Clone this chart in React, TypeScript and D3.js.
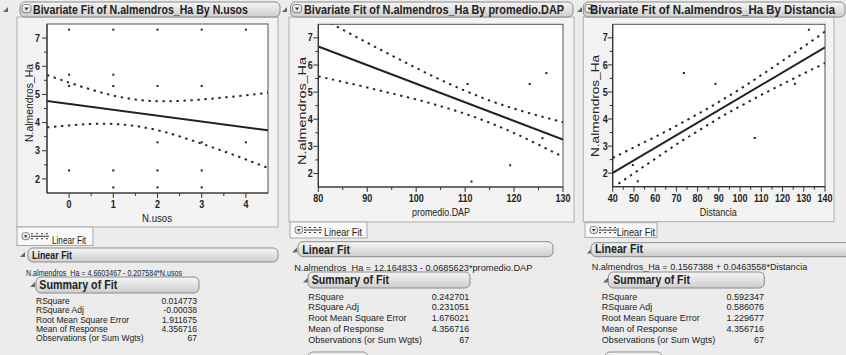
import React from "react";
import * as d3 from "d3";

const FONT = "'Liberation Sans', Arial, Helvetica, sans-serif";

// shared
const yTicks = [2, 3, 4, 5, 6, 7];
const yDomain = [1.5, 7.5];
const statLabels = [
  "RSquare",
  "RSquare Adj",
  "Root Mean Square Error",
  "Mean of Response",
  "Observations (or Sum Wgts)",
];

// Panel 1: N.usos
const usosX = [0, 0, 0, 0, 1, 1, 1, 1, 1, 2, 2, 2, 2, 2, 3, 3, 3, 3, 3, 4, 4];
const usosY = [7.3, 5.7, 5.3, 2.3, 7.3, 5.7, 5.3, 2.3, 1.7, 7.3, 5.3, 3.3, 2.3, 1.7, 7.3, 5.3, 3.3, 2.3, 1.7, 7.3, 3.3];
const usosTicks = [0, 1, 2, 3, 4];
const usosCiX = [-0.5, 0, 0.5, 1, 1.5, 2, 2.5, 3, 3.5, 4, 4.5];
const usosCiUpper = [5.69, 5.42, 5.17, 4.96, 4.82, 4.76, 4.77, 4.82, 4.89, 4.97, 5.06];
const usosCiLower = [3.83, 3.9, 3.95, 3.95, 3.88, 3.73, 3.51, 3.25, 2.98, 2.69, 2.39];
const usosFit = [4.6603467, -0.207584];
const usosStats = ["0.014773", "-0.00038", "1.911675", "4.356716", "67"];

// Panel 2: promedio.DAP
const dapX = [110.5, 111.3, 119.2, 123.2, 125.8, 126.6];
const dapY = [5.3, 1.7, 2.3, 5.3, 3.3, 5.7];
const dapTicks = [80, 90, 100, 110, 120, 130];
const dapCiX = [80, 85, 90, 95, 100, 105, 110, 115, 120, 125, 130];
const dapCiUpper = [7.78, 7.3, 6.82, 6.35, 5.89, 5.45, 5.05, 4.69, 4.39, 4.13, 3.89];
const dapCiLower = [5.58, 5.38, 5.17, 4.95, 4.73, 4.48, 4.2, 3.87, 3.49, 3.06, 2.61];
const dapFit = [12.164833, -0.0685623];
const dapStats = ["0.242701", "0.231051", "1.676021", "4.356716", "67"];

// Panel 3: Distancia
const distX = [49.5, 51.8, 73.5, 88.4, 106.9, 125.8, 132.4];
const distY = [2.3, 1.7, 5.7, 5.3, 3.3, 5.3, 7.3];
const distTicks = [40, 50, 60, 70, 80, 90, 100, 110, 120, 130, 140];
const distCiX = [40, 50, 60, 70, 80, 90, 100, 110, 120, 130, 140];
const distCiUpper = [2.56, 2.95, 3.34, 3.75, 4.18, 4.63, 5.11, 5.62, 6.15, 6.68, 7.23];
const distCiLower = [1.46, 2.0, 2.53, 3.06, 3.55, 4.03, 4.47, 4.89, 5.29, 5.68, 6.07];
const distFit = [0.1567388, 0.0463558];
const distStats = ["0.592347", "0.586076", "1.229677", "4.356716", "67"];

const panels = [
  {
    id: "p1",
    title: "Bivariate Fit of N.almendros_Ha By N.usos",
    xLabel: "N.usos",
    xs: usosX, ys: usosY, xTicks: usosTicks, xDomain: [-0.5, 4.5], minor: 0.5,
    ciX: usosCiX, ciU: usosCiUpper, ciL: usosCiLower, fit: usosFit,
    eq: "N.almendros_Ha = 4.6603467 - 0.207584*N.usos",
    stats: usosStats,
  },
  {
    id: "p2",
    title: "Bivariate Fit of N.almendros_Ha By promedio.DAP",
    xLabel: "promedio.DAP",
    xs: dapX, ys: dapY, xTicks: dapTicks, xDomain: [80, 130], minor: 5,
    ciX: dapCiX, ciU: dapCiUpper, ciL: dapCiLower, fit: dapFit,
    eq: "N.almendros_Ha = 12.164833 - 0.0685623*promedio.DAP",
    stats: dapStats,
  },
  {
    id: "p3",
    title: "Bivariate Fit of N.almendros_Ha By Distancia",
    xLabel: "Distancia",
    xs: distX, ys: distY, xTicks: distTicks, xDomain: [40, 140], minor: 5,
    ciX: distCiX, ciU: distCiUpper, ciL: distCiLower, fit: distFit,
    eq: "N.almendros_Ha = 0.1567388 + 0.0463558*Distancia",
    stats: distStats,
  },
];

const layouts = [
  {
    headTri: [3, 7], pill: [20, 2, 280, 17], icon: [22, 4.5], title: [33, 13.5, 215],
    frame: [17, 17, 278, 227], plot: [47, 24, 268, 193],
    yTickRight: 40, xTickBase: 207.5, yLab: [32.5, 103, 78], xLab: [157, 221.5, 30],
    btn: [17, 227, 93, 245.5], btnText: [52, 244, 34],
    lfTri: [20, 252], lfPill: [28, 248, 278, 262], lfText: [32, 258.5, 40], lfSize: 11,
    eq: [26, 275.5, 156], eqSize: 8.6,
    sumTri: [30, 282], sumPill: [36, 277, 199, 293], sumText: [39.3, 288.5, 78],
    rowX: 36, valX: 197, rowY: [304.3, 313.3, 322.6, 331.6, 340.6], rowSize: 9,
    tail: null as null | number[],
  },
  {
    headTri: [282, 7], pill: [290.5, 2, 573, 17], icon: [292.5, 4.5], title: [304, 13.5, 260],
    frame: [289, 17, 574, 222], plot: [318.3, 24.3, 563, 187],
    yTickRight: 312.7, xTickBase: 201.5, yLab: [305.5, 111, 108], xLab: [441, 216, 58],
    btn: [290, 222, 367, 238], btnText: [324, 236, 38],
    lfTri: [292, 247.5], lfPill: [298, 241.7, 553, 256.7], lfText: [302.3, 253.5, 47.7], lfSize: 12,
    eq: [294.3, 270.8, 238], eqSize: 9.5,
    sumTri: [303, 277.5], sumPill: [308, 272, 470, 288], sumText: [311.7, 284, 77.3],
    rowX: 308.3, valX: 469.3, rowY: [299.5, 310.2, 320.8, 331.8, 342.5], rowSize: 9.5,
    tail: [308, 352, 368],
  },
  {
    headTri: [577, 7], pill: [583.3, 2, 845, 17], icon: [585, 4.5], title: [590, 13.5, 245],
    frame: [583.3, 17, 834, 221.7], plot: [612.7, 24.3, 825, 186.7],
    yTickRight: 607.7, xTickBase: 201.5, yLab: [599, 106, 102], xLab: [718.3, 216, 37],
    btn: [585, 222.7, 657, 237.5], btnText: [616.7, 236, 38.3],
    lfTri: [586.7, 248.5], lfPill: [591, 242.7, 852, 256.7], lfText: [595, 253.3, 48], lfSize: 12,
    eq: [591.7, 270, 215.6], eqSize: 9.5,
    sumTri: [603, 277.5], sumPill: [608.3, 272, 764.3, 288], sumText: [613.3, 284, 76.7],
    rowX: 601.7, valX: 764, rowY: [299.5, 310.2, 320.8, 331.8, 342.5], rowSize: 9.5,
    tail: [605, 352, 662],
  },
];

const INK = "#222";

function Tri({ x, y }: { x: number; y: number }) {
  return <path d={`M${x + 5},${y} L${x + 5},${y + 5} L${x},${y + 5}Z`} fill="#666" />;
}

function Pill({ b }: { b: number[] }) {
  const [x0, y0, x1, y1] = b;
  return (
    <rect x={x0} y={y0} width={x1 - x0} height={y1 - y0} rx={5} ry={5}
      fill="url(#pillGrad)" stroke="#8a8a8a" strokeWidth={1} />
  );
}

function Disc({ x, y, s = 9 }: { x: number; y: number; s?: number }) {
  return (
    <g transform={`translate(${x},${y})`}>
      <rect x={0} y={0} width={s} height={s * 0.92} rx={2.5} fill="url(#btnGrad)" stroke="#666" strokeWidth={0.8} />
      <path d={`M${s * 0.25},${s * 0.33} L${s * 0.75},${s * 0.33} L${s * 0.5},${s * 0.65}Z`} fill="#333" />
    </g>
  );
}

function Panel({ d, L }: { d: (typeof panels)[number]; L: (typeof layouts)[number] }) {
  const [px0, py0, px1, py1] = L.plot;
  const x = d3.scaleLinear().domain(d.xDomain).range([px0, px1]);
  const y = d3.scaleLinear().domain(yDomain).range([py1, py0]);
  const ciLine = d3
    .line<number>()
    .x((_, i) => x(d.ciX[i]))
    .y((v) => y(v))
    .curve(d3.curveNatural);
  const fitLine = d3
    .line<number>()
    .x((v) => x(v))
    .y((v) => y(d.fit[0] + d.fit[1] * v));
  const [xd0, xd1] = d.xDomain;
  const eps = 1e-9;
  const xMinor = d3
    .range(xd0, xd1 + eps, d.minor)
    .filter((v) => v > xd0 + eps && v < xd1 - eps && !d.xTicks.some((t) => Math.abs(t - v) < eps));
  const yMinor = d3
    .range(yDomain[0], yDomain[1] + eps, 0.5)
    .filter((v) => v > yDomain[0] + eps && v < yDomain[1] - eps && !yTicks.some((t) => Math.abs(t - v) < eps));
  const [fx0, fy0, fx1, fy1] = L.frame;
  const [bx0, by0, bx1, by1] = L.btn;
  const clipId = `clip-${d.id}`;
  return (
    <g>
      <defs>
        <clipPath id={clipId}>
          <rect x={px0} y={py0} width={px1 - px0} height={py1 - py0} />
        </clipPath>
      </defs>
      {/* frame */}
      <rect x={fx0} y={fy0} width={fx1 - fx0} height={fy1 - fy0} fill="#f3f3f3" stroke="#b0b0b0" />
      {/* header */}
      <Tri x={L.headTri[0]} y={L.headTri[1]} />
      <Pill b={L.pill} />
      <Disc x={L.icon[0]} y={L.icon[1]} />
      <text x={L.title[0]} y={L.title[1]} fontSize={12} fontWeight="bold" fill={INK}
        textLength={L.title[2]} lengthAdjust="spacingAndGlyphs">{d.title}</text>
      {/* plot */}
      <rect x={px0} y={py0} width={px1 - px0} height={py1 - py0} fill="#fff" stroke="#555" strokeWidth={1} />
      <g clipPath={`url(#${clipId})`}>
        <path d={ciLine(d.ciU) || ""} fill="none" stroke="#2a2a2a" strokeWidth={2} strokeDasharray="2.4 4.6" />
        <path d={ciLine(d.ciL) || ""} fill="none" stroke="#2a2a2a" strokeWidth={2} strokeDasharray="2.4 4.6" />
        <path d={fitLine([xd0, xd1]) || ""} fill="none" stroke={INK} strokeWidth={2} />
        {d.xs.map((v, i) => (
          <rect key={i} x={x(v) - 1} y={y(d.ys[i]) - 1} width={2} height={2} fill={INK} />
        ))}
      </g>
      <line x1={px0} y1={py0} x2={px0} y2={py1} stroke="#333" strokeWidth={1.2} />
      <line x1={px0} y1={py1} x2={px1} y2={py1} stroke="#333" strokeWidth={1.2} />
      {/* y ticks */}
      {yTicks.map((t) => (
        <g key={`yt${t}`}>
          <line x1={px0 - 5} x2={px0} y1={y(t)} y2={y(t)} stroke="#333" />
          <text transform={`translate(${L.yTickRight},${y(t) + 3.6}) scale(0.9,1)`} textAnchor="end"
            fontSize={10} fontWeight="bold" fill={INK}>{t}</text>
        </g>
      ))}
      {yMinor.map((t) => (
        <line key={`ym${t}`} x1={px0 - 3} x2={px0} y1={y(t)} y2={y(t)} stroke="#333" />
      ))}
      {/* x ticks */}
      {d.xTicks.map((t) => (
        <g key={`xt${t}`}>
          <line x1={x(t)} x2={x(t)} y1={py1} y2={py1 + 5} stroke="#333" />
          <text transform={`translate(${x(t)},${L.xTickBase}) scale(0.9,1)`} textAnchor="middle"
            fontSize={10} fontWeight="bold" fill={INK}>{t}</text>
        </g>
      ))}
      {xMinor.map((t) => (
        <line key={`xm${t}`} x1={x(t)} x2={x(t)} y1={py1} y2={py1 + 3} stroke="#333" />
      ))}
      {/* axis labels */}
      <text transform={`translate(${L.yLab[0]},${L.yLab[1]}) rotate(-90)`} textAnchor="middle" fontSize={11}
        fill={INK} textLength={L.yLab[2]} lengthAdjust="spacingAndGlyphs">N.almendros_Ha</text>
      <text x={L.xLab[0]} y={L.xLab[1]} textAnchor="middle" fontSize={11} fill={INK}
        textLength={L.xLab[2]} lengthAdjust="spacingAndGlyphs">{d.xLabel}</text>
      {/* Linear Fit button */}
      <rect x={bx0} y={by0} width={bx1 - bx0} height={by1 - by0} fill="#f8f8f8" stroke="#a8a8a8" />
      <Disc x={bx0 + 5} y={(by0 + by1) / 2 - 3.5} s={7.5} />
      <g stroke="#333" strokeWidth={1}>
        <line x1={bx0 + 14} x2={bx0 + 32} y1={(by0 + by1) / 2} y2={(by0 + by1) / 2} />
        <line x1={bx0 + 14} x2={bx0 + 32} y1={(by0 + by1) / 2 - 2.5} y2={(by0 + by1) / 2 - 2.5} strokeDasharray="2 3" />
        <line x1={bx0 + 14} x2={bx0 + 32} y1={(by0 + by1) / 2 + 2.5} y2={(by0 + by1) / 2 + 2.5} strokeDasharray="2 3" />
      </g>
      <text x={L.btnText[0]} y={L.btnText[1]} fontSize={10.5} fill={INK}
        textLength={L.btnText[2]} lengthAdjust="spacingAndGlyphs">Linear Fit</text>
      {/* Linear Fit outline */}
      <Tri x={L.lfTri[0]} y={L.lfTri[1]} />
      <Pill b={L.lfPill} />
      <text x={L.lfText[0]} y={L.lfText[1]} fontSize={L.lfSize} fontWeight="bold" fill={INK}
        textLength={L.lfText[2]} lengthAdjust="spacingAndGlyphs">Linear Fit</text>
      <text x={L.eq[0]} y={L.eq[1]} fontSize={L.eqSize} fill={INK}
        textLength={L.eq[2]} lengthAdjust="spacingAndGlyphs">{d.eq}</text>
      {/* Summary of Fit */}
      <Tri x={L.sumTri[0]} y={L.sumTri[1]} />
      <Pill b={L.sumPill} />
      <text x={L.sumText[0]} y={L.sumText[1]} fontSize={12} fontWeight="bold" fill={INK}
        textLength={L.sumText[2]} lengthAdjust="spacingAndGlyphs">Summary of Fit</text>
      {statLabels.map((s, i) => (
        <g key={s}>
          <text transform={`translate(${L.rowX},${L.rowY[i]}) scale(0.95,1)`} fontSize={L.rowSize} fill={INK}>{s}</text>
          <text transform={`translate(${L.valX},${L.rowY[i]}) scale(0.95,1)`} fontSize={L.rowSize} fill={INK}
            textAnchor="end">{d.stats[i]}</text>
        </g>
      ))}
      {L.tail && <Pill b={[L.tail[0], L.tail[1], L.tail[2], L.tail[1] + 16]} />}
    </g>
  );
}

export default function App() {
  return (
    <svg width={846} height={355} fontFamily={FONT}
      style={{ position: "absolute", left: 0, top: 0, display: "block" }}>
      <defs>
        <linearGradient id="pillGrad" x1="0" y1="0" x2="0" y2="1">
          <stop offset="0" stopColor="#f6f6f6" />
          <stop offset="1" stopColor="#cdcdcd" />
        </linearGradient>
        <linearGradient id="btnGrad" x1="0" y1="0" x2="0" y2="1">
          <stop offset="0" stopColor="#ffffff" />
          <stop offset="1" stopColor="#d8d8d8" />
        </linearGradient>
      </defs>
      <rect x={0} y={0} width={846} height={355} fill="#ececec" />
      {panels.map((p, i) => (
        <Panel key={p.id} d={p} L={layouts[i]} />
      ))}
    </svg>
  );
}
